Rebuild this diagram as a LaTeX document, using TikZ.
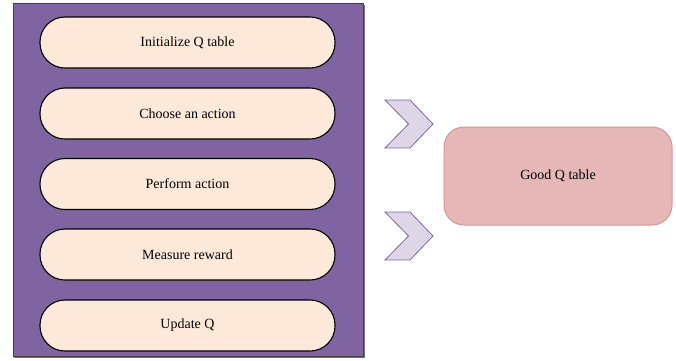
\documentclass[tikz,border=0pt]{standalone}
\usepackage{fontspec}
\setmainfont{Liberation Serif}
\definecolor{panel}{HTML}{8064A2}
\definecolor{pillfill}{HTML}{FDE9D9}
\definecolor{chevfill}{HTML}{DCD6E8}
\definecolor{goodfill}{HTML}{E5B8B7}
\definecolor{gooddraw}{HTML}{D99594}
\begin{document}
\begin{tikzpicture}[x=1pt,y=-1pt,
  pill/.style={draw=black, line width=1.1pt, fill=pillfill, rounded corners=25pt,
    minimum width=295pt, minimum height=51pt, inner sep=0pt,
    font=\fontsize{14}{16}\selectfont},
  chev/.style={draw=panel, line width=0.8pt, fill=chevfill, line join=miter},
  goodbox/.style={draw=gooddraw, line width=1pt, fill=goodfill, rounded corners=20pt,
    minimum width=228pt, minimum height=98pt, inner sep=0pt,
    font=\fontsize{14}{16}\selectfont}]
\useasboundingbox (0,0) rectangle (676,360);
% shadow and panel
\fill[black!55] (14,5) rectangle (364.5,358);
\draw[fill=panel, draw=black!75, line width=0.8pt] (13,3) rectangle (363.5,356);
\node[pill] (p1) at (187.5,42.5) {Initialize Q table};
\node[pill] (p2) at (187.5,113.5) {Choose an action};
\node[pill] (p3) at (187.5,184) {Perform action};
\node[pill] (p4) at (187.5,254.5) {Measure reward};
\node[pill] (p5) at (187.5,325.5) {Update Q};
% chevrons
\draw[chev] (385,100) -- (410,100) -- (433,124) -- (410,148) -- (385,148) -- (408.5,124) -- cycle;
\draw[chev] (385,212) -- (410,212) -- (433,236) -- (410,260) -- (385,260) -- (408.5,236) -- cycle;
\node[goodbox] (g) at (558,176) {Good Q table};
\end{tikzpicture}
\end{document}
